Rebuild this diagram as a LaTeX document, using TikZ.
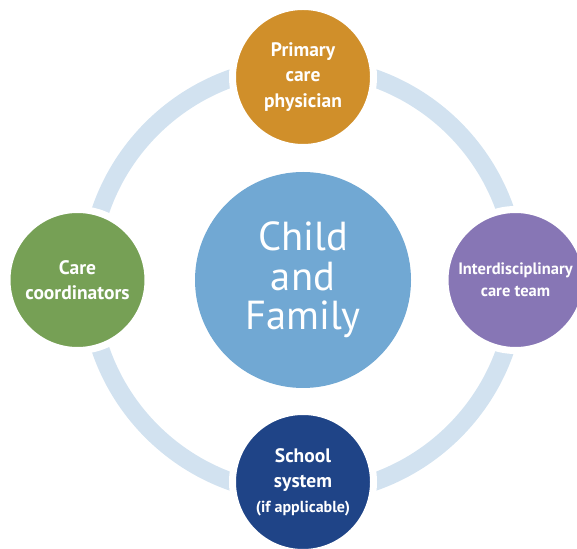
\documentclass[tikz,border=0pt]{standalone}
\usepackage{fontspec}
\setmainfont{PT Sans}
\usepackage{xcolor}
\usetikzlibrary{positioning}
\definecolor{ringblue}{HTML}{D2E2F0}
\definecolor{midblue}{HTML}{71A8D3}
\definecolor{orangec}{HTML}{D08F2A}
\definecolor{greenc}{HTML}{76A055}
\definecolor{purplec}{HTML}{8776B5}
\definecolor{navyc}{HTML}{1F4487}

\begin{document}
\begin{tikzpicture}[x=1pt, y=1pt, node distance=200pt]
    \useasboundingbox (0,0) rectangle (577,548);
    % Anillo de fondo
    \coordinate (mid) at (303,268);
    \draw[ringblue, line width=18pt] (mid) circle (214pt);

    % Circulo central
    \node [circle, fill=midblue, text=white, minimum size=216pt, align=center, font=\fontsize{40.5}{39.5}\selectfont] (child) at (mid) {Child\\and\\Family};

    % Circulos exteriores
    \node [circle, fill=orangec, draw=white, line width=7pt, minimum size=141pt, text=white, align=center, font=\bfseries\fontsize{19.5}{25.5}\selectfont, above of=child, node distance=203pt] (physician) {Primary\\care\\physician};
    \node [circle, fill=greenc, draw=white, line width=7pt, minimum size=141pt, text=white, align=center, font=\bfseries\fontsize{19.5}{25.5}\selectfont, left of=child, node distance=225.5pt] (coord) {Care\\coordinators};
    \node [circle, fill=purplec, draw=white, line width=7pt, minimum size=141pt, text=white, align=center, font=\bfseries\fontsize{16.5}{22}\selectfont, right of=child, node distance=212.5pt] (team) {Interdisciplinary\\care team};
    \node [circle, fill=navyc, draw=white, line width=7pt, minimum size=141pt, text=white, align=center, font=\bfseries\fontsize{19.5}{25}\selectfont, below of=child, node distance=202pt] (school) {School\\system\\{\fontsize{16}{22}\selectfont(if applicable)}};
\end{tikzpicture}
\end{document}
